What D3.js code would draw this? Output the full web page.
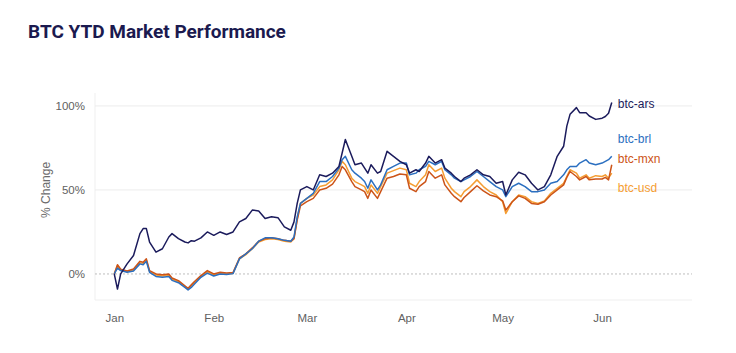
<!DOCTYPE html>
<html>
<head>
<meta charset="utf-8">
<script src="https://cdn.jsdelivr.net/npm/d3@7"></script>
<style>
  body { margin: 0; background: #fff; }
  svg { display: block; }
</style>
</head>
<body>
<svg id="chart" width="736" height="353"></svg>
<script>

// days since 2024-01-01
var days = [0,1,2,4,6,8,9,10,11,13, 15,17,18,20,22,23,24,25,27,29,
  31,33,35,37,39,41,43,45,47,49, 51,53,55,56,57,58,60,62,64,66,
  68,70,71,72,74,75,77,78,79,80, 82,83,85,87,89,91,92,94,95,97,
  98,100,102,103,105,106,108,109,111,113, 115,117,119,121,122,124,126,128,130,132,
  134,136,138,140,141,142,144,145,147,148, 150,152,153,154,155];

var ars = [0,-9,0,6,11,24,27,27,19,13, 15,22,24,21,19,18.5,19.8,19.5,21.5,25,
  23,25,23.5,25,31,33,38,37.5,33,34, 33.5,28,26,31,42,50,52,50,59,58,
  60,64,72,80,70,65,66,63,60,65, 60,61,73,70,67,65,60,62,61,66,
  70,66,68,63,60,58,55,57,59,62, 59,58,54,55,47,56,60.5,59,54,50,
  52,59,70,76,88,95,99,96,96,94, 92,92.7,93.7,95.6,102];

var brl = [0,3.5,2,1,1.8,6,5.5,7.5,1,-1.5, -2,-1.5,-3.8,-5.2,-8,-9.5,-8,-6,-2,0.5,
  -1.2,0,-0.3,0.2,9,12,15,19.5,21.5,21.5, 21,20,19.5,22,34,42,45,48,55,55,
  58,63,68,70,62,60,57,55,51,56, 50,53,62,64,66,66,59,60,62,64,
  67,65,67,62,59,57,55,56,58,61, 58,55,52,50,46,52,54,52,49,49,
  50,54,55,59,62,64,64,66,68,66, 65,66,67,68,70];

var mxn = [0,5.5,2.8,1.8,3,7.5,7,9,2,0, -0.5,0,-2.4,-4,-7,-8.5,-6.5,-4.5,-1,2,
  0,1,0.5,0.8,9.5,12,15.5,19.5,21,21.5, 21,20,19.5,21,32,40.5,43,45,50,51,
  53.5,59,64,62,55,52,50,49,45,50, 45,49,57,58,59.5,59,51,49,52,55,
  61,57,59,53,48,46,43,45.5,49,52.5, 49.5,47,46,43.5,38,43,46.5,45,42,41.5,
  43,47,50,53,57.5,61,58,56,58,56, 56.5,56.5,57.5,56,65];

var usd = [0,5,2.4,1.4,2.4,6.7,6.3,8.3,1.4,-0.6, -1.2,-0.6,-3,-4.6,-7.5,-9,-7,-5,-1.5,1.4,
  -0.6,0.4,0,0.4,9,11.5,15,19,20.5,21, 20.5,19.5,19,21,33,42,45,47,52,53,
  56,62,67,65,57,55,53,52,48,53, 48,52,60,61.5,63,62,54,52,55,59,
  65,61,63,57,51,49,46,49,52,56, 52,49,47,43,36,43,47,46,43,42,
  43.5,48,51,54,58,62,60,57,59,57, 58.5,58,59,57,60];

var seriesNames = ["btc-ars", "btc-brl", "btc-mxn", "btc-usd"];
var seriesValues = [ars, brl, mxn, usd];
var colors = ["#1b1b5c", "#2b6fc0", "#cc5418", "#f59d32"];
var labelShift = [1, -18, -6, 15];

var yTicks = [0, 50, 100];
var monthLabels = ["Jan", "Feb", "Mar", "Apr", "May", "Jun"];

var start = new Date(2024, 0, 1);
var dates = days.map(function(d) { return d3.timeDay.offset(start, d); });

var margin = {top: 93, right: 44, bottom: 53, left: 95}
  , width = 736
  , height = 353;

var svg = d3.select("#chart");

var x = d3.scaleTime()
    .domain([new Date(2023, 11, 26), new Date(2024, 5, 29)])
    .range([margin.left, width - margin.right]);

var y = d3.scaleLinear()
    .domain([-15.5, 107.7])
    .range([height - margin.bottom, margin.top]);

svg.append("text")
    .attr("x", 28)
    .attr("y", 38)
    .style("font-family", "Roboto, sans-serif")
    .style("font-weight", 700)
    .style("font-size", "19px")
    .style("fill", "#1b1a4f")
    .text("BTC YTD Market Performance");

// panel frame
svg.append("line")
    .attr("x1", margin.left).attr("x2", margin.left)
    .attr("y1", margin.top).attr("y2", height - margin.bottom)
    .style("stroke", "#efefef");
svg.append("line")
    .attr("x1", margin.left).attr("x2", width - margin.right)
    .attr("y1", height - margin.bottom).attr("y2", height - margin.bottom)
    .style("stroke", "#efefef");

svg.selectAll(".grid")
    .data(yTicks)
  .enter().append("line")
    .attr("class", "grid")
    .attr("x1", margin.left)
    .attr("x2", width - margin.right)
    .attr("y1", function(d) { return y(d); })
    .attr("y2", function(d) { return y(d); })
    .style("stroke", function(d) { return d === 0 ? "#bdbdbd" : "#ececec"; })
    .style("stroke-dasharray", function(d) { return d === 0 ? "2,2" : null; });

var yAxis = svg.append("g")
    .attr("transform", "translate(" + (margin.left - 7) + ",0)")
    .call(d3.axisLeft(y).tickValues(yTicks).tickSize(0)
      .tickFormat(function(d) { return d + "%"; }));

var xAxis = svg.append("g")
    .attr("transform", "translate(0," + (height - margin.bottom + 9) + ")")
    .call(d3.axisBottom(x).ticks(d3.timeMonth.every(1)).tickSize(0)
      .tickFormat(function(d) { return monthLabels[d.getMonth()]; }));

[yAxis, xAxis].forEach(function(a) {
  a.select(".domain").remove();
  a.selectAll("text")
      .style("font-family", "Liberation Sans, Arial, sans-serif")
      .style("font-size", "11.5px")
      .style("fill", "#616161");
});
xAxis.selectAll("text").attr("dy", "0.9em");

svg.append("text")
    .attr("transform", "translate(50," + y(50) + ") rotate(-90)")
    .attr("text-anchor", "middle")
    .style("font-family", "Liberation Sans, Arial, sans-serif")
    .style("font-size", "12px")
    .style("fill", "#6b6b6b")
    .text("% Change");

var line = d3.line()
    .x(function(d, i) { return x(dates[i]); })
    .y(function(d) { return y(d); });

// usd drawn first so the others sit on top
var order = [3, 2, 1, 0];

svg.selectAll(".series")
    .data(order)
  .enter().append("path")
    .attr("class", "series")
    .attr("d", function(k) { return line(seriesValues[k]); })
    .style("fill", "none")
    .style("stroke", function(k) { return colors[k]; })
    .style("stroke-width", 1.5)
    .style("stroke-linejoin", "round");

svg.selectAll(".label")
    .data(order)
  .enter().append("text")
    .attr("class", "label")
    .attr("x", x(dates[dates.length - 1]) + 6)
    .attr("y", function(k) {
      var v = seriesValues[k];
      return y(v[v.length - 1]) + labelShift[k];
    })
    .attr("dy", "0.35em")
    .style("font-family", "Liberation Sans, Arial, sans-serif")
    .style("font-size", "12px")
    .style("fill", function(k) { return colors[k]; })
    .text(function(k) { return seriesNames[k]; });

</script>
</body>
</html>
